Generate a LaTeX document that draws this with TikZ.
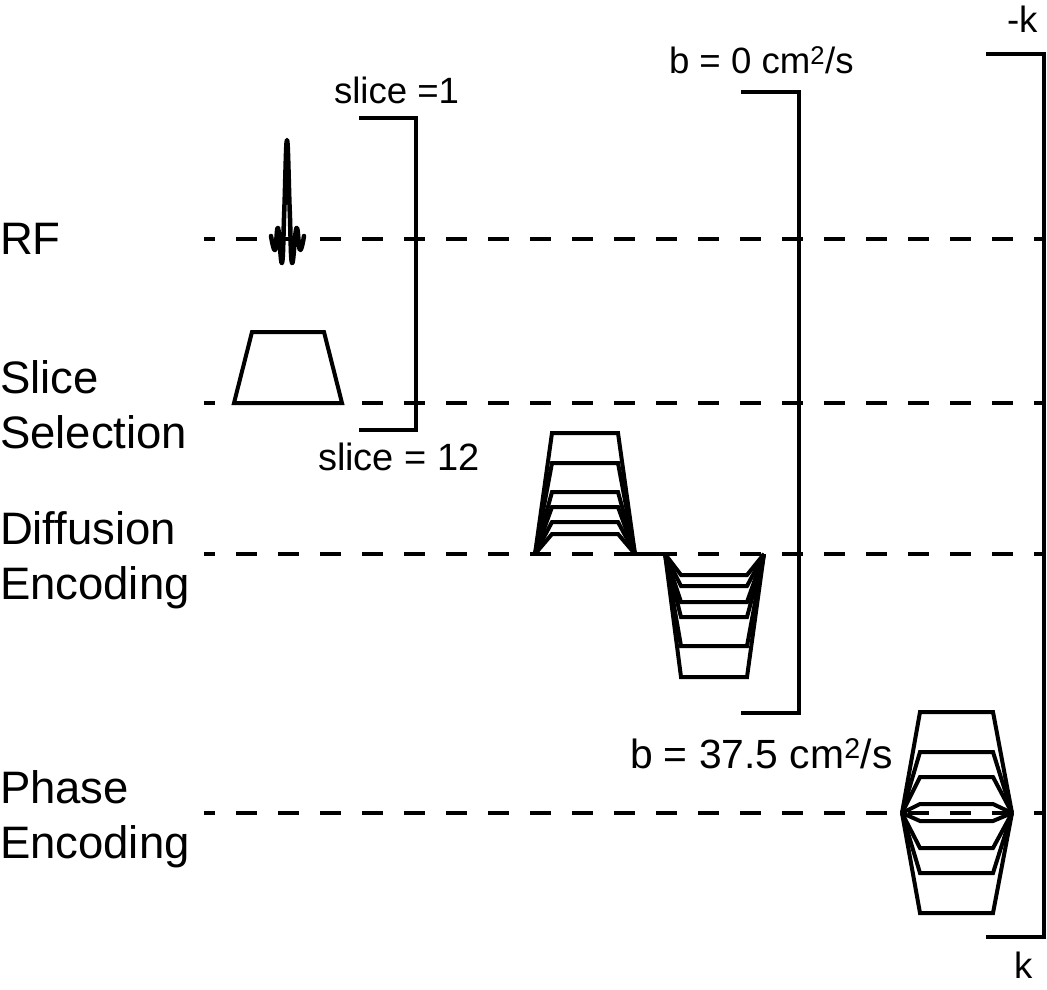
\documentclass[tikz,border=0pt]{standalone}
\usepackage{fontspec}
\setmainfont{Liberation Sans}
\usetikzlibrary{positioning}

\begin{document}
\begin{tikzpicture}[
  x=1pt, y=-1pt,
  every node/.style={inner sep=0pt, outer sep=0pt},
  axislabel/.style={font=\fontsize{45.5}{55}\selectfont, align=left, anchor=base west},
  endlabel/.style={font=\fontsize{36.6}{44}\selectfont, anchor=base west},
  gridline/.style={line width=4pt, dash pattern=on 21pt off 21pt, dash phase=10pt},
  wave/.style={line width=4pt, line join=miter},
  brk/.style={line width=4pt, line join=miter}]

\useasboundingbox (0,0) rectangle (1047,990);

%% Row labels
\node[axislabel] (rf)    at (0,254) {RF};
\node[axislabel] (slice) at (0,448) {Slice\\Selection};
\node[axislabel] (diff)  at (0,599) {Diffusion\\Encoding};
\node[axislabel] (phase) at (0,858) {Phase\\Encoding};

%% Dashed time axes
\foreach \nm/\yy in {rf/239,slice/403,diff/554,phase/813}{
  \coordinate (\nm start) at (204,\yy);
  \coordinate (\nm end)   at (1045,\yy);
  \draw[gridline] (\nm start) -- (\nm end);
}

%% RF pulse
\draw[wave, line width=4.5pt, line cap=round, line join=round] plot[smooth, tension=0.75] coordinates {
  (271,236) (275,250) (278,228) (282,263) (284.3,210) (287,140) (289.7,210)
  (292,263) (296.5,228) (300,250) (304,236)};

%% Slice selection gradient
\draw[wave] (234,403) -- (252,332) -- (324,332) -- (342,403) -- cycle;

%% Diffusion encoding lobes
\foreach \yy in {433,463,492,507,522,534}{
  \draw[wave] (535,554) -- (552,\yy) -- (618,\yy) -- (635,554);
}
\draw[wave] (635,554) -- (665,554);
\foreach \yy in {575,586,602,617,646,677}{
  \draw[wave] (665,554) -- (681,\yy) -- (747,\yy) -- (764,554);
}

%% Phase encoding steps
\foreach \yy in {712,752,777,804,821,848,873,913}{
  \draw[wave] (902,813) -- (920,\yy) -- (993,\yy) -- (1012,813);
}

%% Brackets and their end labels
\coordinate (slicetop) at (359,118);
\coordinate (slicebot) at (359,430);
\coordinate (btop)     at (741,92);
\coordinate (bbot)     at (741,713);
\coordinate (ktop)     at (986,54);
\coordinate (kbot)     at (986,937);

\draw[brk] (slicetop) -- ++(57,0) |- (slicebot);
\draw[brk] (btop) -- ++(58,0) |- (bbot);
\draw[brk] (ktop) -- ++(58,0) |- (kbot);

\node[endlabel] (sliceone)    at (334,103) {slice =1};
\node[endlabel, font=\fontsize{38}{44}\selectfont] (slicetwelve) at (318,470) {slice = 12};
\node[endlabel] (bzero)       at (669,74)  {b = 0 cm\textsuperscript{2}/s};
\node[endlabel, font=\fontsize{40.8}{44}\selectfont] (bmax) at (630,768) {b = 37.5 cm\textsuperscript{2}/s};
\node[endlabel] (kneg)        at (1007,33) {-k};
\node[endlabel] (kpos)        at (1014,978) {k};
\end{tikzpicture}
\end{document}
